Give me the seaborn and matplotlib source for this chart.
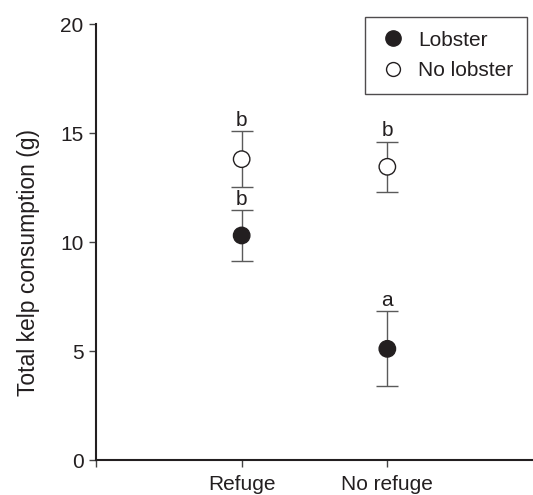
import numpy as np
import pandas as pd
import matplotlib
matplotlib.use("Agg")
import matplotlib.pyplot as plt
from matplotlib.lines import Line2D
import seaborn as sns

# ---- data ----
sites = ["Refuge", "No refuge"]
treatments = ["Lobster", "No lobster"]
lobster_mean = [10.3, 5.1]
lobster_se = [1.15, 1.72]
nolobster_mean = [13.8, 13.45]
nolobster_se = [1.27, 1.15]
lobster_letters = ["b", "a"]
nolobster_letters = ["b", "b"]
y_ticks = [0, 5, 10, 15, 20]
y_label = "Total kelp consumption (g)"

sns.set_style("ticks")
plt.rcParams["font.family"] = ["Liberation Sans", "DejaVu Sans"]

ink = "#231f20"
rows = []
for i, s in enumerate(sites):
    rows.append(dict(site=s, pos=i + 1, treatment=treatments[0], mean=lobster_mean[i],
                     se=lobster_se[i], letter=lobster_letters[i]))
    rows.append(dict(site=s, pos=i + 1, treatment=treatments[1], mean=nolobster_mean[i],
                     se=nolobster_se[i], letter=nolobster_letters[i]))
df = pd.DataFrame(rows)

fig = plt.figure(figsize=(5.33, 4.95), dpi=100)
ax = fig.add_axes([0.1801, 0.0707, 0.8199, 0.8808])

ax.errorbar(df["pos"], df["mean"], yerr=df["se"], fmt="none", ecolor="#5a5a5a",
            elinewidth=1.0, capsize=8, capthick=1.0, zorder=2)

palette = {treatments[0]: ink, treatments[1]: "white"}
sns.scatterplot(data=df, x="pos", y="mean", hue="treatment", palette=palette,
                s=140, edgecolor=ink, linewidth=1.0, zorder=3, legend=False, ax=ax)

for _, r in df.iterrows():
    ax.annotate(r["letter"], (r["pos"], r["mean"] + r["se"]), xytext=(0, 1.0),
                textcoords="offset points", ha="center", va="bottom", fontsize=15,
                color=ink)

ax.set_xlim(0, 3)
ax.set_ylim(0, 20)
ax.set_xticks([0] + list(range(1, len(sites) + 1)))
ax.set_xticklabels([""] + sites)
ax.set_yticks(y_ticks)
ax.set_yticklabels([str(t) for t in y_ticks])
ax.set_xlabel("")
ax.set_ylabel(y_label, fontsize=16.5, color=ink)
ax.yaxis.set_label_coords(-0.128, 0.454)
ax.tick_params(axis="both", labelsize=15, colors="#444444", labelcolor=ink,
               length=5, width=1)
ax.tick_params(axis="x", pad=6)
ax.tick_params(axis="y", pad=4)

sns.despine(ax=ax)
for sp in ["left", "bottom"]:
    ax.spines[sp].set_linewidth(1.5)
    ax.spines[sp].set_color(ink)

handles = [
    Line2D([], [], marker="o", linestyle="none", markersize=11, markerfacecolor=ink,
           markeredgecolor=ink, markeredgewidth=1.0),
    Line2D([], [], marker="o", linestyle="none", markersize=10, markerfacecolor="white",
           markeredgecolor=ink, markeredgewidth=1.0),
]
leg = ax.legend(handles, treatments, loc="upper right",
                bbox_to_anchor=(527 / 533, 1 - 17 / 495), bbox_transform=fig.transFigure,
                fontsize=15, frameon=True, fancybox=False, borderpad=0.65,
                handlelength=1.4, handletextpad=0.5,
                labelspacing=0.55, borderaxespad=0)
leg.get_frame().set_edgecolor(ink)
leg.get_frame().set_linewidth(1.0)
for t in leg.get_texts():
    t.set_color(ink)

fig.savefig("out.png", dpi=100)
